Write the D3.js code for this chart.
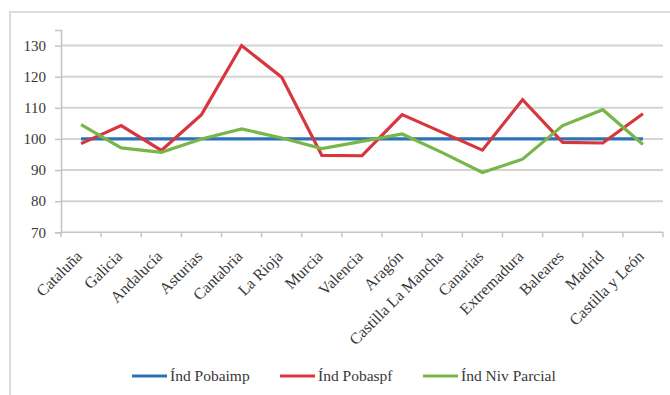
<!DOCTYPE html>
<html>
<head>
<meta charset="utf-8">
<script src="https://cdn.jsdelivr.net/npm/d3@7"></script>
<style>
  body { margin: 0; background: #fff; }
</style>
</head>
<body>
<div id="chart"></div>
<script>
/*Chart data*/
const regions = ["Cataluña", "Galicia", "Andalucía", "Asturias", "Cantabria", "La Rioja", "Murcia",
  "Valencia", "Aragón", "Castilla La Mancha", "Canarias", "Extremadura", "Baleares", "Madrid", "Castilla y León"];
const indPobaimp = [100, 100, 100, 100, 100, 100, 100, 100, 100, 100, 100, 100, 100, 100, 100];
const indPobaspf = [98.5, 104.3, 96.3, 107.8, 130, 119.8, 94.7, 94.6, 107.8, 102.1, 96.4, 112.6, 98.9, 98.7, 108.1];
const indNivParcial = [104.6, 97.1, 95.7, 100, 103.2, 100.3, 96.9, 99.2, 101.6, 95.6, 89.2, 93.5, 104.3, 109.4, 98.2];
const yTicks = [70, 80, 90, 100, 110, 120, 130];
const seriesNames = ["Índ Pobaimp", "Índ Pobaspf", "Índ Niv Parcial"];

const chartWidth = 670, chartHeight = 395;
const plotLeft = 61, plotRight = 663, plotTop = 30, plotBottom = 232.3;
const serif = "'Liberation Serif', 'Times New Roman', serif";
const textColor = "#383838";

const series = [
  { name: seriesNames[0], values: indPobaimp, color: "#2c72b8" },
  { name: seriesNames[1], values: indPobaspf, color: "#d8363d" },
  { name: seriesNames[2], values: indNivParcial, color: "#79b64a" }
];

const svg = d3.select("#chart").append("svg")
  .attr("width", chartWidth)
  .attr("height", chartHeight);

/*Outer border*/
svg.append("rect")
  .attr("x", 10).attr("y", 12)
  .attr("width", 700).attr("height", 420)
  .attr("fill", "none")
  .attr("stroke", "#dcdcdc")
  .attr("stroke-width", 2);

const x = d3.scaleBand().domain(regions).range([plotLeft, plotRight]);
const y = d3.scaleLinear().domain([70, 135]).range([plotBottom, plotTop]);

/*Gridlines*/
svg.append("g").selectAll("line")
  .data(yTicks.filter(d => d > 70))
  .join("line")
  .attr("x1", plotLeft).attr("x2", plotRight)
  .attr("y1", d => y(d)).attr("y2", d => y(d))
  .attr("stroke", "#d4d4d4")
  .attr("stroke-width", 2);

/*Y axis*/
const yAxis = svg.append("g")
  .attr("transform", `translate(${plotLeft},0)`)
  .call(d3.axisLeft(y).tickValues(yTicks).tickSize(6).tickPadding(9));
yAxis.select(".domain").attr("stroke", "#c4c4c4").attr("stroke-width", 1.5);
yAxis.selectAll(".tick line").attr("stroke", "#c4c4c4").attr("stroke-width", 1.5);
yAxis.selectAll("text")
  .style("font-family", serif)
  .style("font-size", "15px")
  .attr("fill", textColor);

/*X axis with ticks on category boundaries*/
const xAxis = svg.append("g")
  .attr("transform", `translate(0,${plotBottom})`);
xAxis.append("line")
  .attr("x1", plotLeft).attr("x2", plotRight)
  .attr("stroke", "#c4c4c4").attr("stroke-width", 1.5);
const bounds = regions.map(d => x(d)).concat([plotRight]);
xAxis.selectAll(".bt")
  .data(bounds)
  .join("line")
  .attr("class", "bt")
  .attr("x1", d => d).attr("x2", d => d)
  .attr("y1", 0).attr("y2", 5)
  .attr("stroke", "#c4c4c4").attr("stroke-width", 1.5);
xAxis.selectAll(".lbl")
  .data(regions)
  .join("text")
  .attr("class", "lbl")
  .attr("transform", d => `translate(${x(d) + x.bandwidth() / 2 + 2},${25}) rotate(-45)`)
  .attr("text-anchor", "end")
  .style("font-family", serif)
  .style("font-size", "16px")
  .attr("fill", textColor)
  .text(d => d);

/*Lines*/
const line = d3.line()
  .x((d, i) => x(regions[i]) + x.bandwidth() / 2)
  .y(d => y(d));

svg.append("g").selectAll("path")
  .data(series)
  .join("path")
  .attr("d", d => line(d.values))
  .attr("fill", "none")
  .attr("stroke", d => d.color)
  .attr("stroke-width", 3.2)
  .attr("stroke-linejoin", "miter");

/*Legend*/
const legendX = [132, 280, 423];
const legend = svg.append("g").selectAll("g")
  .data(series)
  .join("g")
  .attr("transform", (d, i) => `translate(${legendX[i]},376)`);
legend.append("line")
  .attr("x1", 0).attr("x2", 35)
  .attr("stroke", d => d.color)
  .attr("stroke-width", 3);
legend.append("text")
  .attr("x", 38).attr("y", 5)
  .style("font-family", serif)
  .style("font-size", "15.5px")
  .attr("fill", textColor)
  .text(d => d.name);
</script>
</body>
</html>
